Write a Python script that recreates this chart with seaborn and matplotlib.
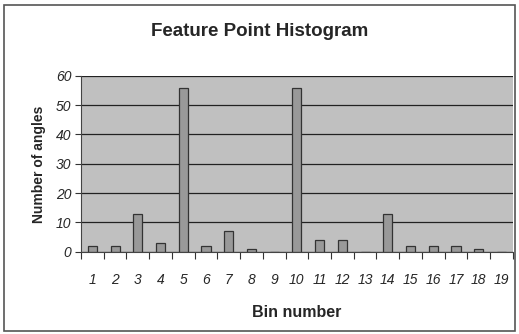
import pandas as pd
import seaborn as sns
from matplotlib import pyplot as plt
from matplotlib.patches import Rectangle

# Valeurs
bins = [str(i) for i in range(1, 20)]
counts = [2, 2, 13, 3, 56, 2, 7, 1, 0, 56, 4, 4, 0, 13, 2, 2, 2, 1, 0]
yticks = [0, 10, 20, 30, 40, 50, 60]

df = pd.DataFrame({'bin': bins, 'count': counts})

sns.set_style('white')
plt.rcParams['font.family'] = ['Liberation Sans', 'DejaVu Sans']

fig = plt.figure(figsize=(5.19, 3.34), dpi=100)
ax = fig.add_axes([0.156, 0.246, 0.832, 0.527])
ax.set_facecolor('#c0c0c0')

sns.barplot(data=df, x='bin', y='count', ax=ax, color='#999999',
            edgecolor='#333333', linewidth=0.9, width=0.4, saturation=1)

ax.set_ylim(0, 60)
ax.set_xlim(-0.5, len(bins) - 0.5)
ax.set_yticks(yticks)
ax.set_yticklabels([str(v) for v in yticks], fontstyle='italic', fontsize=10)
ax.set_xticks(range(len(bins)))
ax.set_xticklabels(bins, fontstyle='italic', fontsize=10)
ax.set_xticks([i - 0.5 for i in range(len(bins) + 1)], minor=True)
ax.tick_params(axis='x', which='major', length=0, pad=15)
ax.tick_params(axis='x', which='minor', length=5, width=0.8, color='#333333', direction='out', bottom=True)
ax.tick_params(axis='y', length=4, width=0.8, color='#333333', left=True, pad=3)

ax.yaxis.grid(True, color='#222222', linewidth=0.9)
ax.set_axisbelow(True)
for side in ['top', 'right']:
    ax.spines[side].set_visible(False)
ax.spines['left'].set_color('#444444')
ax.spines['bottom'].set_color('#444444')

ax.set_xlabel('Bin number', fontweight='bold', fontsize=11.5, labelpad=13)
ax.set_ylabel('Number of angles', fontweight='bold', fontsize=10, labelpad=7)
fig.suptitle('Feature Point Histogram', fontweight='bold', fontsize=13.5, y=0.93)

# Cadre autour du graphique
fig.patches.append(Rectangle((0.008, 0.01), 0.985, 0.975, transform=fig.transFigure,
                             fill=False, edgecolor='#555555', linewidth=1.2))

fig.savefig('out.png', dpi=100)
